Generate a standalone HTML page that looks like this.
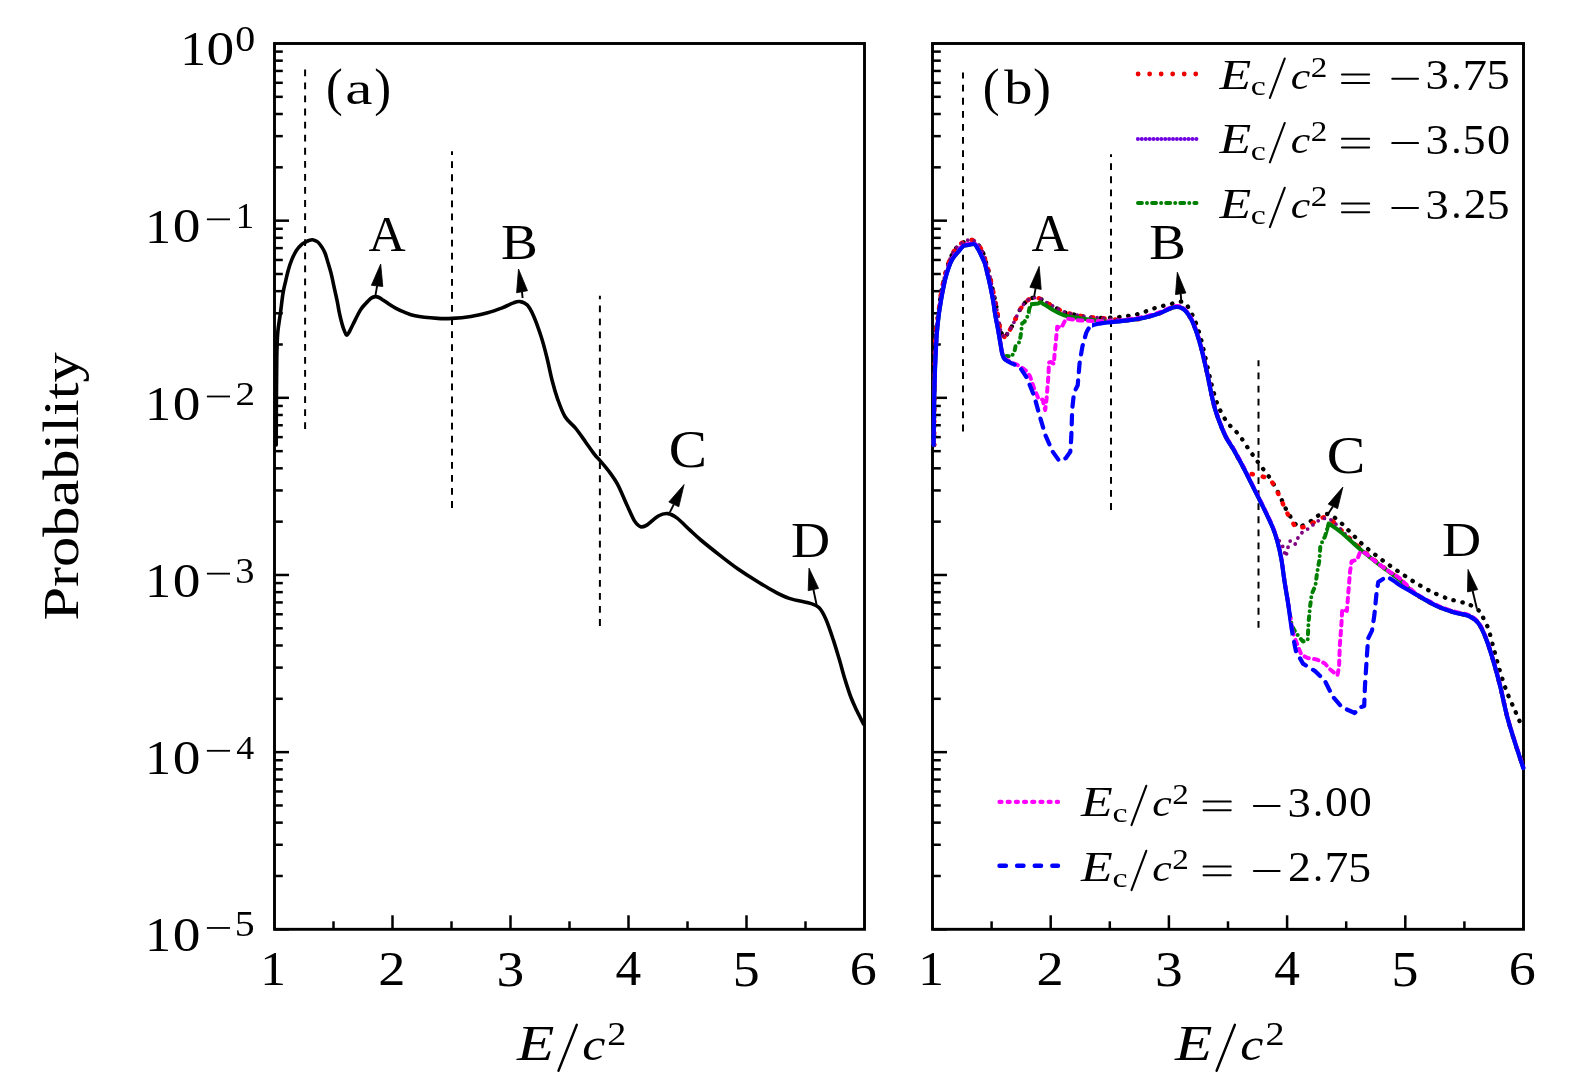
<!DOCTYPE html><html><head><meta charset="utf-8"><style>html,body{margin:0;padding:0;background:#fff;}svg{display:block;}svg{will-change:transform;}</style></head><body>
<svg width="1575" height="1083" viewBox="0 0 1575 1083">
<rect width="1575" height="1083" fill="#fff"/>
<rect x="274.5" y="43.5" width="590.0" height="885.8" fill="none" stroke="#000" stroke-width="2.9"/>
<line x1="274.5" y1="220.66" x2="289.0" y2="220.66" stroke="#000" stroke-width="2.5"/>
<line x1="274.5" y1="167.33" x2="282.8" y2="167.33" stroke="#000" stroke-width="2.5"/>
<line x1="274.5" y1="136.13" x2="282.8" y2="136.13" stroke="#000" stroke-width="2.5"/>
<line x1="274.5" y1="114.00" x2="282.8" y2="114.00" stroke="#000" stroke-width="2.5"/>
<line x1="274.5" y1="96.83" x2="282.8" y2="96.83" stroke="#000" stroke-width="2.5"/>
<line x1="274.5" y1="82.80" x2="282.8" y2="82.80" stroke="#000" stroke-width="2.5"/>
<line x1="274.5" y1="70.94" x2="282.8" y2="70.94" stroke="#000" stroke-width="2.5"/>
<line x1="274.5" y1="60.67" x2="282.8" y2="60.67" stroke="#000" stroke-width="2.5"/>
<line x1="274.5" y1="51.61" x2="282.8" y2="51.61" stroke="#000" stroke-width="2.5"/>
<line x1="274.5" y1="397.82" x2="289.0" y2="397.82" stroke="#000" stroke-width="2.5"/>
<line x1="274.5" y1="344.49" x2="282.8" y2="344.49" stroke="#000" stroke-width="2.5"/>
<line x1="274.5" y1="313.29" x2="282.8" y2="313.29" stroke="#000" stroke-width="2.5"/>
<line x1="274.5" y1="291.16" x2="282.8" y2="291.16" stroke="#000" stroke-width="2.5"/>
<line x1="274.5" y1="273.99" x2="282.8" y2="273.99" stroke="#000" stroke-width="2.5"/>
<line x1="274.5" y1="259.96" x2="282.8" y2="259.96" stroke="#000" stroke-width="2.5"/>
<line x1="274.5" y1="248.10" x2="282.8" y2="248.10" stroke="#000" stroke-width="2.5"/>
<line x1="274.5" y1="237.83" x2="282.8" y2="237.83" stroke="#000" stroke-width="2.5"/>
<line x1="274.5" y1="228.77" x2="282.8" y2="228.77" stroke="#000" stroke-width="2.5"/>
<line x1="274.5" y1="574.98" x2="289.0" y2="574.98" stroke="#000" stroke-width="2.5"/>
<line x1="274.5" y1="521.65" x2="282.8" y2="521.65" stroke="#000" stroke-width="2.5"/>
<line x1="274.5" y1="490.45" x2="282.8" y2="490.45" stroke="#000" stroke-width="2.5"/>
<line x1="274.5" y1="468.32" x2="282.8" y2="468.32" stroke="#000" stroke-width="2.5"/>
<line x1="274.5" y1="451.15" x2="282.8" y2="451.15" stroke="#000" stroke-width="2.5"/>
<line x1="274.5" y1="437.12" x2="282.8" y2="437.12" stroke="#000" stroke-width="2.5"/>
<line x1="274.5" y1="425.26" x2="282.8" y2="425.26" stroke="#000" stroke-width="2.5"/>
<line x1="274.5" y1="414.99" x2="282.8" y2="414.99" stroke="#000" stroke-width="2.5"/>
<line x1="274.5" y1="405.93" x2="282.8" y2="405.93" stroke="#000" stroke-width="2.5"/>
<line x1="274.5" y1="752.14" x2="289.0" y2="752.14" stroke="#000" stroke-width="2.5"/>
<line x1="274.5" y1="698.81" x2="282.8" y2="698.81" stroke="#000" stroke-width="2.5"/>
<line x1="274.5" y1="667.61" x2="282.8" y2="667.61" stroke="#000" stroke-width="2.5"/>
<line x1="274.5" y1="645.48" x2="282.8" y2="645.48" stroke="#000" stroke-width="2.5"/>
<line x1="274.5" y1="628.31" x2="282.8" y2="628.31" stroke="#000" stroke-width="2.5"/>
<line x1="274.5" y1="614.28" x2="282.8" y2="614.28" stroke="#000" stroke-width="2.5"/>
<line x1="274.5" y1="602.42" x2="282.8" y2="602.42" stroke="#000" stroke-width="2.5"/>
<line x1="274.5" y1="592.15" x2="282.8" y2="592.15" stroke="#000" stroke-width="2.5"/>
<line x1="274.5" y1="583.09" x2="282.8" y2="583.09" stroke="#000" stroke-width="2.5"/>
<line x1="274.5" y1="929.30" x2="289.0" y2="929.30" stroke="#000" stroke-width="2.5"/>
<line x1="274.5" y1="875.97" x2="282.8" y2="875.97" stroke="#000" stroke-width="2.5"/>
<line x1="274.5" y1="844.77" x2="282.8" y2="844.77" stroke="#000" stroke-width="2.5"/>
<line x1="274.5" y1="822.64" x2="282.8" y2="822.64" stroke="#000" stroke-width="2.5"/>
<line x1="274.5" y1="805.47" x2="282.8" y2="805.47" stroke="#000" stroke-width="2.5"/>
<line x1="274.5" y1="791.44" x2="282.8" y2="791.44" stroke="#000" stroke-width="2.5"/>
<line x1="274.5" y1="779.58" x2="282.8" y2="779.58" stroke="#000" stroke-width="2.5"/>
<line x1="274.5" y1="769.31" x2="282.8" y2="769.31" stroke="#000" stroke-width="2.5"/>
<line x1="274.5" y1="760.25" x2="282.8" y2="760.25" stroke="#000" stroke-width="2.5"/>
<line x1="333.50" y1="929.3" x2="333.50" y2="921.3" stroke="#000" stroke-width="2.5"/>
<line x1="392.50" y1="929.3" x2="392.50" y2="915.3" stroke="#000" stroke-width="2.5"/>
<line x1="451.50" y1="929.3" x2="451.50" y2="921.3" stroke="#000" stroke-width="2.5"/>
<line x1="510.50" y1="929.3" x2="510.50" y2="915.3" stroke="#000" stroke-width="2.5"/>
<line x1="569.50" y1="929.3" x2="569.50" y2="921.3" stroke="#000" stroke-width="2.5"/>
<line x1="628.50" y1="929.3" x2="628.50" y2="915.3" stroke="#000" stroke-width="2.5"/>
<line x1="687.50" y1="929.3" x2="687.50" y2="921.3" stroke="#000" stroke-width="2.5"/>
<line x1="746.50" y1="929.3" x2="746.50" y2="915.3" stroke="#000" stroke-width="2.5"/>
<line x1="805.50" y1="929.3" x2="805.50" y2="921.3" stroke="#000" stroke-width="2.5"/>
<text transform="translate(260.28,985.10) scale(1.0673,1)" font-family="Liberation Serif" font-size="48.17">1</text>
<text transform="translate(378.31,984.80) scale(1.1182,1)" font-family="Liberation Serif" font-size="48.63">2</text>
<text transform="translate(496.55,985.61) scale(1.1118,1)" font-family="Liberation Serif" font-size="49.86">3</text>
<text transform="translate(615.60,984.80) scale(1.0349,1)" font-family="Liberation Serif" font-size="49.68">4</text>
<text transform="translate(732.67,985.61) scale(1.0686,1)" font-family="Liberation Serif" font-size="50.41">5</text>
<text transform="translate(849.68,985.32) scale(1.1075,1)" font-family="Liberation Serif" font-size="48.82">6</text>
<text transform="translate(180.16,65.30) scale(1.0533,1)" font-family="Liberation Serif" font-size="49.08">1</text>
<text transform="translate(206.59,65.33) scale(1.1513,1)" font-family="Liberation Serif" font-size="48.16">0</text>
<text transform="translate(235.18,51.26) scale(1.1402,1)" font-family="Liberation Serif" font-size="34.97">0</text>
<text transform="translate(145.01,242.50) scale(1.0616,1)" font-family="Liberation Serif" font-size="49.23">1</text>
<text transform="translate(172.79,242.43) scale(1.1477,1)" font-family="Liberation Serif" font-size="48.31">0</text>
<rect x="206.9" y="218.43" width="23.1" height="1.8" fill="#000"/>
<text transform="translate(235.68,228.20) scale(1.0472,1)" font-family="Liberation Serif" font-size="34.99">1</text>
<text transform="translate(145.01,419.66) scale(1.0616,1)" font-family="Liberation Serif" font-size="49.23">1</text>
<text transform="translate(172.79,419.59) scale(1.1477,1)" font-family="Liberation Serif" font-size="48.31">0</text>
<rect x="206.9" y="395.59" width="23.1" height="1.8" fill="#000"/>
<text transform="translate(235.48,404.86) scale(1.1423,1)" font-family="Liberation Serif" font-size="34.28">2</text>
<text transform="translate(145.01,596.82) scale(1.0616,1)" font-family="Liberation Serif" font-size="49.23">1</text>
<text transform="translate(172.79,596.75) scale(1.1477,1)" font-family="Liberation Serif" font-size="48.31">0</text>
<rect x="206.9" y="572.75" width="23.1" height="1.8" fill="#000"/>
<text transform="translate(235.36,582.57) scale(1.0866,1)" font-family="Liberation Serif" font-size="35.42">3</text>
<text transform="translate(145.01,773.98) scale(1.0616,1)" font-family="Liberation Serif" font-size="49.23">1</text>
<text transform="translate(172.79,773.91) scale(1.1477,1)" font-family="Liberation Serif" font-size="48.31">0</text>
<rect x="206.9" y="749.90" width="23.1" height="1.8" fill="#000"/>
<text transform="translate(236.20,758.88) scale(1.0371,1)" font-family="Liberation Serif" font-size="34.64">4</text>
<text transform="translate(145.01,951.14) scale(1.0616,1)" font-family="Liberation Serif" font-size="49.23">1</text>
<text transform="translate(172.79,951.07) scale(1.1477,1)" font-family="Liberation Serif" font-size="48.31">0</text>
<rect x="206.9" y="927.07" width="23.1" height="1.8" fill="#000"/>
<text transform="translate(234.79,936.49) scale(1.1184,1)" font-family="Liberation Serif" font-size="35.51">5</text>
<line x1="305.1" y1="429.1" x2="305.1" y2="69.4" stroke="#000" stroke-width="2" stroke-dasharray="6.8 6.27"/>
<line x1="452.0" y1="507.9" x2="452.0" y2="151.3" stroke="#000" stroke-width="2" stroke-dasharray="6.8 6.27"/>
<line x1="599.9" y1="625.9" x2="599.9" y2="295.7" stroke="#000" stroke-width="2" stroke-dasharray="6.8 6.27"/>
<path d="M276.2,445.0 C276.2,437.5 276.3,411.3 276.4,400.0 C276.5,388.7 276.5,385.0 276.6,377.0 C276.7,369.0 276.7,359.5 276.9,352.0 C277.1,344.5 277.2,338.4 277.8,332.0 C278.4,325.6 279.5,319.9 280.4,313.3 C281.3,306.7 282.2,298.0 283.1,292.6 C284.0,287.2 284.9,284.5 285.7,280.8 C286.5,277.1 287.2,274.1 288.2,270.5 C289.2,266.9 290.5,262.7 291.9,259.4 C293.3,256.1 294.8,253.0 296.4,250.5 C298.0,248.0 300.0,245.9 301.5,244.6 C303.0,243.2 304.0,243.1 305.2,242.4 C306.4,241.7 307.5,240.8 308.9,240.4 C310.3,240.0 311.9,239.6 313.4,239.9 C314.9,240.2 316.3,240.7 317.8,242.0 C319.3,243.3 321.0,245.7 322.2,247.6 C323.4,249.5 324.2,250.9 325.2,253.5 C326.2,256.1 327.1,259.8 328.1,263.1 C329.1,266.4 330.1,269.5 331.1,273.4 C332.1,277.3 333.0,282.0 334.0,286.7 C335.0,291.4 336.4,297.3 337.3,301.6 C338.2,305.9 338.5,309.0 339.3,312.7 C340.1,316.4 341.2,320.9 342.0,323.8 C342.8,326.8 343.4,328.5 344.2,330.4 C345.0,332.3 345.7,334.9 346.6,335.1 C347.5,335.3 348.4,333.4 349.5,331.5 C350.6,329.6 351.5,327.4 353.3,323.8 C355.1,320.2 358.4,313.3 360.5,309.9 C362.6,306.5 364.2,305.2 366.0,303.3 C367.8,301.4 369.4,299.4 371.0,298.3 C372.6,297.2 374.1,296.7 375.4,296.6 C376.7,296.5 377.9,297.0 379.0,297.5 C380.1,298.0 380.2,298.1 382.1,299.4 C384.0,300.6 388.1,303.5 390.4,305.0 C392.7,306.5 393.7,307.1 396.0,308.3 C398.3,309.5 401.1,310.9 404.3,312.1 C407.5,313.3 409.4,314.6 415.0,315.7 C420.6,316.8 431.5,317.9 437.7,318.4 C443.9,318.8 446.6,318.7 452.1,318.4 C457.6,318.1 465.0,317.4 470.9,316.5 C476.8,315.6 482.4,314.2 487.6,312.8 C492.8,311.4 498.0,309.5 502.3,307.9 C506.6,306.2 510.5,303.9 513.4,302.9 C516.3,301.8 517.4,301.2 519.7,301.6 C522.0,302.0 525.0,302.7 527.3,305.1 C529.6,307.5 531.4,311.0 533.7,316.2 C536.0,321.4 538.9,329.7 541.1,336.5 C543.3,343.3 544.9,349.4 546.7,356.8 C548.6,364.2 550.4,373.7 552.2,380.8 C554.0,387.9 555.6,393.3 557.7,399.3 C559.9,405.3 562.2,412.0 565.1,416.8 C568.0,421.6 571.9,423.8 575.3,427.9 C578.7,432.0 582.2,437.2 585.4,441.7 C588.6,446.2 592.4,451.7 594.7,454.7 C597.0,457.7 596.9,457.0 599.2,459.7 C601.5,462.4 605.4,466.6 608.5,470.8 C611.6,475.0 614.6,478.9 617.7,484.6 C620.8,490.3 624.1,498.9 626.9,504.9 C629.7,510.9 632.0,517.0 634.3,520.6 C636.6,524.2 638.6,526.0 640.8,526.7 C642.9,527.4 644.3,526.7 647.2,524.9 C650.1,523.1 654.9,517.9 658.3,516.0 C661.7,514.1 664.7,513.3 667.8,513.6 C670.9,513.9 673.1,515.2 676.8,517.9 C680.4,520.6 685.7,526.2 689.7,529.9 C693.7,533.6 695.9,535.9 700.8,540.0 C705.7,544.1 713.1,550.0 719.3,554.8 C725.4,559.6 731.6,564.4 737.7,568.7 C743.9,573.0 750.0,576.9 756.2,580.7 C762.4,584.5 769.1,588.7 774.7,591.7 C780.3,594.7 784.0,596.7 790.0,598.6 C796.0,600.5 805.6,601.9 810.4,603.4 C815.2,604.9 816.3,605.0 818.9,607.6 C821.5,610.2 823.5,613.8 825.9,619.2 C828.3,624.6 831.1,633.2 833.3,639.9 C835.5,646.5 837.2,652.5 839.2,659.1 C841.2,665.8 843.1,673.4 845.1,679.8 C847.1,686.2 849.0,692.3 851.0,697.5 C853.0,702.7 854.8,706.3 856.9,710.8 C859.0,715.2 862.5,722.0 863.6,724.2" fill="none" stroke="#000" stroke-width="3.6" stroke-linejoin="round" stroke-linecap="round"/>
<line x1="375.5" y1="295.2" x2="377.1" y2="285.9" stroke="#000" stroke-width="1.9"/>
<polygon points="380.7,264.0 371.4,285.3 382.8,286.5" fill="#000" stroke="#000" stroke-width="0.8" stroke-linejoin="round"/>
<line x1="522.6" y1="298.0" x2="522.0" y2="291.8" stroke="#000" stroke-width="1.9"/>
<polygon points="518.5,269.0 516.6,292.8 527.5,290.7" fill="#000" stroke="#000" stroke-width="0.8" stroke-linejoin="round"/>
<line x1="669.8" y1="512.4" x2="673.8" y2="504.4" stroke="#000" stroke-width="1.9"/>
<polygon points="684.1,484.5 668.8,502.0 678.8,506.8" fill="#000" stroke="#000" stroke-width="0.8" stroke-linejoin="round"/>
<line x1="816.6" y1="604.7" x2="813.4" y2="589.5" stroke="#000" stroke-width="1.9"/>
<polygon points="809.0,568.1 808.2,590.7 818.6,588.4" fill="#000" stroke="#000" stroke-width="0.8" stroke-linejoin="round"/>
<text transform="translate(368.40,250.70) scale(1.0055,1)" font-family="Liberation Serif" font-size="51.20">A</text>
<text transform="translate(501.11,258.65) scale(1.1092,1)" font-family="Liberation Serif" font-size="49.72">B</text>
<text transform="translate(668.75,467.29) scale(1.1060,1)" font-family="Liberation Serif" font-size="51.80">C</text>
<text transform="translate(790.94,556.70) scale(1.0882,1)" font-family="Liberation Serif" font-size="49.79">D</text>
<text transform="translate(325.89,104.61) scale(0.9468,1)" font-family="Liberation Serif" font-size="53.05">(</text>
<text transform="translate(345.35,104.15) scale(1.3159,1)" font-family="Liberation Serif" font-size="46.55">a</text>
<text transform="translate(374.27,104.61) scale(0.9542,1)" font-family="Liberation Serif" font-size="53.05">)</text>
<rect x="932.5" y="43.5" width="591.0" height="885.8" fill="none" stroke="#000" stroke-width="2.9"/>
<line x1="932.5" y1="220.66" x2="947.0" y2="220.66" stroke="#000" stroke-width="2.5"/>
<line x1="932.5" y1="167.33" x2="940.8" y2="167.33" stroke="#000" stroke-width="2.5"/>
<line x1="932.5" y1="136.13" x2="940.8" y2="136.13" stroke="#000" stroke-width="2.5"/>
<line x1="932.5" y1="114.00" x2="940.8" y2="114.00" stroke="#000" stroke-width="2.5"/>
<line x1="932.5" y1="96.83" x2="940.8" y2="96.83" stroke="#000" stroke-width="2.5"/>
<line x1="932.5" y1="82.80" x2="940.8" y2="82.80" stroke="#000" stroke-width="2.5"/>
<line x1="932.5" y1="70.94" x2="940.8" y2="70.94" stroke="#000" stroke-width="2.5"/>
<line x1="932.5" y1="60.67" x2="940.8" y2="60.67" stroke="#000" stroke-width="2.5"/>
<line x1="932.5" y1="51.61" x2="940.8" y2="51.61" stroke="#000" stroke-width="2.5"/>
<line x1="932.5" y1="397.82" x2="947.0" y2="397.82" stroke="#000" stroke-width="2.5"/>
<line x1="932.5" y1="344.49" x2="940.8" y2="344.49" stroke="#000" stroke-width="2.5"/>
<line x1="932.5" y1="313.29" x2="940.8" y2="313.29" stroke="#000" stroke-width="2.5"/>
<line x1="932.5" y1="291.16" x2="940.8" y2="291.16" stroke="#000" stroke-width="2.5"/>
<line x1="932.5" y1="273.99" x2="940.8" y2="273.99" stroke="#000" stroke-width="2.5"/>
<line x1="932.5" y1="259.96" x2="940.8" y2="259.96" stroke="#000" stroke-width="2.5"/>
<line x1="932.5" y1="248.10" x2="940.8" y2="248.10" stroke="#000" stroke-width="2.5"/>
<line x1="932.5" y1="237.83" x2="940.8" y2="237.83" stroke="#000" stroke-width="2.5"/>
<line x1="932.5" y1="228.77" x2="940.8" y2="228.77" stroke="#000" stroke-width="2.5"/>
<line x1="932.5" y1="574.98" x2="947.0" y2="574.98" stroke="#000" stroke-width="2.5"/>
<line x1="932.5" y1="521.65" x2="940.8" y2="521.65" stroke="#000" stroke-width="2.5"/>
<line x1="932.5" y1="490.45" x2="940.8" y2="490.45" stroke="#000" stroke-width="2.5"/>
<line x1="932.5" y1="468.32" x2="940.8" y2="468.32" stroke="#000" stroke-width="2.5"/>
<line x1="932.5" y1="451.15" x2="940.8" y2="451.15" stroke="#000" stroke-width="2.5"/>
<line x1="932.5" y1="437.12" x2="940.8" y2="437.12" stroke="#000" stroke-width="2.5"/>
<line x1="932.5" y1="425.26" x2="940.8" y2="425.26" stroke="#000" stroke-width="2.5"/>
<line x1="932.5" y1="414.99" x2="940.8" y2="414.99" stroke="#000" stroke-width="2.5"/>
<line x1="932.5" y1="405.93" x2="940.8" y2="405.93" stroke="#000" stroke-width="2.5"/>
<line x1="932.5" y1="752.14" x2="947.0" y2="752.14" stroke="#000" stroke-width="2.5"/>
<line x1="932.5" y1="698.81" x2="940.8" y2="698.81" stroke="#000" stroke-width="2.5"/>
<line x1="932.5" y1="667.61" x2="940.8" y2="667.61" stroke="#000" stroke-width="2.5"/>
<line x1="932.5" y1="645.48" x2="940.8" y2="645.48" stroke="#000" stroke-width="2.5"/>
<line x1="932.5" y1="628.31" x2="940.8" y2="628.31" stroke="#000" stroke-width="2.5"/>
<line x1="932.5" y1="614.28" x2="940.8" y2="614.28" stroke="#000" stroke-width="2.5"/>
<line x1="932.5" y1="602.42" x2="940.8" y2="602.42" stroke="#000" stroke-width="2.5"/>
<line x1="932.5" y1="592.15" x2="940.8" y2="592.15" stroke="#000" stroke-width="2.5"/>
<line x1="932.5" y1="583.09" x2="940.8" y2="583.09" stroke="#000" stroke-width="2.5"/>
<line x1="932.5" y1="929.30" x2="947.0" y2="929.30" stroke="#000" stroke-width="2.5"/>
<line x1="932.5" y1="875.97" x2="940.8" y2="875.97" stroke="#000" stroke-width="2.5"/>
<line x1="932.5" y1="844.77" x2="940.8" y2="844.77" stroke="#000" stroke-width="2.5"/>
<line x1="932.5" y1="822.64" x2="940.8" y2="822.64" stroke="#000" stroke-width="2.5"/>
<line x1="932.5" y1="805.47" x2="940.8" y2="805.47" stroke="#000" stroke-width="2.5"/>
<line x1="932.5" y1="791.44" x2="940.8" y2="791.44" stroke="#000" stroke-width="2.5"/>
<line x1="932.5" y1="779.58" x2="940.8" y2="779.58" stroke="#000" stroke-width="2.5"/>
<line x1="932.5" y1="769.31" x2="940.8" y2="769.31" stroke="#000" stroke-width="2.5"/>
<line x1="932.5" y1="760.25" x2="940.8" y2="760.25" stroke="#000" stroke-width="2.5"/>
<line x1="991.60" y1="929.3" x2="991.60" y2="921.3" stroke="#000" stroke-width="2.5"/>
<line x1="1050.70" y1="929.3" x2="1050.70" y2="915.3" stroke="#000" stroke-width="2.5"/>
<line x1="1109.80" y1="929.3" x2="1109.80" y2="921.3" stroke="#000" stroke-width="2.5"/>
<line x1="1168.90" y1="929.3" x2="1168.90" y2="915.3" stroke="#000" stroke-width="2.5"/>
<line x1="1228.00" y1="929.3" x2="1228.00" y2="921.3" stroke="#000" stroke-width="2.5"/>
<line x1="1287.10" y1="929.3" x2="1287.10" y2="915.3" stroke="#000" stroke-width="2.5"/>
<line x1="1346.20" y1="929.3" x2="1346.20" y2="921.3" stroke="#000" stroke-width="2.5"/>
<line x1="1405.30" y1="929.3" x2="1405.30" y2="915.3" stroke="#000" stroke-width="2.5"/>
<line x1="1464.40" y1="929.3" x2="1464.40" y2="921.3" stroke="#000" stroke-width="2.5"/>
<text transform="translate(918.28,985.10) scale(1.0673,1)" font-family="Liberation Serif" font-size="48.17">1</text>
<text transform="translate(1036.51,984.80) scale(1.1182,1)" font-family="Liberation Serif" font-size="48.63">2</text>
<text transform="translate(1154.95,985.61) scale(1.1118,1)" font-family="Liberation Serif" font-size="49.86">3</text>
<text transform="translate(1274.20,984.80) scale(1.0349,1)" font-family="Liberation Serif" font-size="49.68">4</text>
<text transform="translate(1391.47,985.61) scale(1.0686,1)" font-family="Liberation Serif" font-size="50.41">5</text>
<text transform="translate(1508.68,985.32) scale(1.1075,1)" font-family="Liberation Serif" font-size="48.82">6</text>
<line x1="963.0" y1="431.4" x2="963.0" y2="72.5" stroke="#000" stroke-width="2" stroke-dasharray="6.8 6.27"/>
<line x1="1111.0" y1="509.9" x2="1111.0" y2="154.2" stroke="#000" stroke-width="2" stroke-dasharray="6.8 6.27"/>
<line x1="1258.5" y1="627.7" x2="1258.5" y2="360.3" stroke="#000" stroke-width="2" stroke-dasharray="6.8 6.27"/>
<defs>
<clipPath id="bl_d">
<rect x="1012.0" y="0" width="80.0" height="1083"/>
<rect x="1291.0" y="0" width="102.0" height="1083"/>
</clipPath>
<clipPath id="bl_s">
<rect x="900.0" y="0" width="112.0" height="1083"/>
<rect x="1092.0" y="0" width="199.0" height="1083"/>
<rect x="1393.0" y="0" width="167.0" height="1083"/>
</clipPath>
<clipPath id="gr_d">
<rect x="1005.0" y="0" width="25.0" height="1083"/>
<rect x="1291.0" y="0" width="35.0" height="1083"/>
</clipPath>
<clipPath id="gr_s">
<rect x="900.0" y="0" width="105.0" height="1083"/>
<rect x="1030.0" y="0" width="261.0" height="1083"/>
<rect x="1326.0" y="0" width="234.0" height="1083"/>
</clipPath>
</defs>
<path d="M934.2,445.0 C934.2,437.5 934.3,411.3 934.4,400.0 C934.5,388.7 934.5,385.0 934.6,377.0 C934.7,369.0 934.7,359.5 934.9,352.0 C935.1,344.5 935.2,338.4 935.8,332.0 C936.4,325.6 937.5,319.9 938.4,313.3 C939.3,306.7 940.2,298.0 941.1,292.6 C942.0,287.2 942.9,284.5 943.7,280.8 C944.6,277.1 945.2,274.1 946.2,270.5 C947.3,266.9 948.6,262.7 949.9,259.4 C951.3,256.1 952.8,253.0 954.4,250.5 C956.0,248.0 958.1,245.9 959.5,244.6 C961.0,243.2 962.0,243.1 963.3,242.4 C964.5,241.7 965.6,240.8 967.0,240.4 C968.3,240.0 970.0,239.6 971.5,239.9 C973.0,240.2 974.4,240.7 975.9,242.0 C977.3,243.3 979.0,245.7 980.3,247.6 C981.5,249.5 982.3,250.9 983.3,253.5 C984.3,256.1 985.2,259.8 986.2,263.1 C987.2,266.4 988.2,269.5 989.2,273.4 C990.2,277.3 991.1,282.0 992.1,286.7 C993.1,291.4 994.5,297.3 995.4,301.6 C996.3,305.9 996.5,307.8 997.4,312.7 C998.3,317.6 999.5,326.7 1000.7,330.8 C1001.9,334.9 1003.7,336.7 1004.8,337.2 C1005.9,337.7 1006.3,335.3 1007.4,333.7 C1008.5,332.1 1009.9,330.0 1011.1,327.8 C1012.3,325.6 1013.6,323.1 1014.8,320.5 C1016.0,317.9 1017.3,314.7 1018.5,312.3 C1019.7,309.9 1021.1,308.0 1022.2,306.4 C1023.3,304.8 1023.6,304.0 1025.1,302.7 C1026.6,301.4 1028.7,299.0 1031.0,298.3 C1033.3,297.6 1036.3,297.4 1039.1,298.3 C1041.9,299.2 1045.2,301.9 1048.0,303.5 C1050.8,305.1 1053.5,306.5 1056.1,307.9 C1058.7,309.3 1060.5,310.9 1063.5,312.0 C1066.5,313.1 1070.2,313.7 1073.9,314.5 C1077.7,315.3 1081.7,316.2 1086.0,316.8 C1090.3,317.4 1094.6,317.9 1100.0,318.0 C1105.4,318.1 1112.3,317.7 1118.5,317.1 C1124.7,316.5 1130.8,315.8 1137.0,314.3 C1143.2,312.8 1149.9,309.6 1155.4,307.9 C1160.9,306.2 1166.0,305.2 1170.2,304.2 C1174.4,303.1 1177.6,301.5 1180.4,301.6 C1183.2,301.8 1184.5,302.2 1186.8,305.1 C1189.1,308.0 1192.0,314.1 1194.2,319.0 C1196.4,323.9 1198.1,329.0 1199.8,334.7 C1201.5,340.4 1202.9,346.6 1204.4,353.1 C1205.9,359.6 1207.7,367.7 1209.0,373.5 C1210.3,379.3 1211.0,382.4 1212.5,387.8 C1214.0,393.2 1215.6,400.1 1218.1,405.8 C1220.5,411.6 1223.8,417.5 1227.2,422.3 C1230.7,427.1 1235.1,430.1 1238.8,434.7 C1242.5,439.3 1245.8,445.1 1249.3,450.0 C1252.8,454.9 1256.0,459.4 1259.5,464.2 C1263.0,469.0 1267.2,473.9 1270.5,479.0 C1273.8,484.1 1276.5,489.3 1279.2,494.5 C1281.9,499.7 1283.8,505.3 1286.6,510.3 C1289.4,515.3 1293.8,522.0 1296.0,524.7 C1298.2,527.4 1297.7,527.2 1300.1,526.6 C1302.5,526.0 1307.5,523.2 1310.4,521.4 C1313.4,519.6 1315.0,517.0 1317.8,515.8 C1320.6,514.6 1324.8,513.8 1327.4,514.0 C1330.1,514.2 1331.4,515.5 1333.7,517.0 C1336.0,518.5 1338.7,520.9 1341.1,523.0 C1343.5,525.1 1345.8,527.7 1348.0,529.9 C1350.2,532.1 1352.3,534.2 1354.5,536.4 C1356.7,538.6 1358.6,540.8 1360.9,542.9 C1363.2,545.0 1366.0,547.4 1368.3,549.3 C1370.6,551.2 1372.4,552.5 1374.8,554.4 C1377.2,556.2 1380.2,558.6 1382.6,560.4 C1385.0,562.2 1386.7,563.3 1389.1,565.0 C1391.5,566.7 1394.4,568.9 1396.9,570.6 C1399.4,572.3 1401.4,573.5 1404.0,575.2 C1406.6,576.9 1409.8,579.2 1412.3,580.8 C1414.8,582.4 1416.4,583.3 1419.1,584.9 C1421.8,586.5 1425.8,588.8 1428.4,590.2 C1431.0,591.6 1431.7,591.9 1434.6,593.2 C1437.5,594.5 1442.9,596.8 1445.7,597.9 C1448.5,599.0 1448.2,598.8 1451.2,599.6 C1454.2,600.4 1460.6,601.9 1463.4,602.6 C1466.2,603.4 1466.0,603.1 1468.2,604.1 C1470.4,605.1 1474.5,606.9 1476.6,608.5 C1478.7,610.1 1479.1,610.8 1481.0,614.0 C1482.9,617.2 1485.8,622.1 1488.0,628.0 C1490.2,633.9 1492.0,642.4 1494.0,649.6 C1496.0,656.8 1497.8,664.0 1500.0,671.2 C1502.2,678.4 1504.6,686.0 1507.2,692.8 C1509.8,699.6 1513.0,706.0 1515.6,712.0 C1518.2,718.0 1521.8,726.2 1523.0,729.0" fill="none" stroke-linecap="round" stroke-linejoin="round" stroke="#000" stroke-width="4.3" stroke-dasharray="0.4 8.7"/>
<path d="M934.2,445.0 C934.2,437.5 934.3,411.3 934.4,400.0 C934.5,388.7 934.5,385.0 934.6,377.0 C934.7,369.0 934.7,359.5 934.9,352.0 C935.1,344.5 935.2,338.4 935.8,332.0 C936.4,325.6 937.5,319.9 938.4,313.3 C939.3,306.7 940.2,298.0 941.1,292.6 C942.0,287.2 942.9,284.5 943.7,280.8 C944.6,277.1 945.2,274.1 946.2,270.5 C947.3,266.9 948.6,262.7 949.9,259.4 C951.3,256.1 952.8,253.0 954.4,250.5 C956.0,248.0 958.1,245.9 959.5,244.6 C961.0,243.2 962.0,243.1 963.3,242.4 C964.5,241.7 965.6,240.8 967.0,240.4 C968.3,240.0 970.0,239.6 971.5,239.9 C973.0,240.2 974.4,240.7 975.9,242.0 C977.3,243.3 979.0,245.7 980.3,247.6 C981.5,249.5 982.3,250.9 983.3,253.5 C984.3,256.1 985.2,259.8 986.2,263.1 C987.2,266.4 988.2,269.5 989.2,273.4 C990.2,277.3 991.1,282.0 992.1,286.7 C993.1,291.4 994.5,297.3 995.4,301.6 C996.3,305.9 996.5,307.8 997.4,312.7 C998.3,317.6 999.5,326.7 1000.7,330.8 C1001.9,334.9 1003.7,336.7 1004.8,337.2 C1005.9,337.7 1006.3,335.3 1007.4,333.7 C1008.5,332.1 1009.9,330.0 1011.1,327.8 C1012.3,325.6 1013.6,323.1 1014.8,320.5 C1016.0,317.9 1017.3,314.7 1018.5,312.3 C1019.7,309.9 1021.1,308.0 1022.2,306.4 C1023.3,304.8 1023.6,304.0 1025.1,302.7 C1026.6,301.4 1028.7,299.0 1031.0,298.3 C1033.3,297.6 1036.3,297.4 1039.1,298.3 C1041.9,299.2 1045.2,301.9 1048.0,303.5 C1050.8,305.1 1053.5,306.5 1056.1,307.9 C1058.7,309.3 1060.5,310.9 1063.5,312.0 C1066.5,313.1 1070.2,313.7 1073.9,314.5 C1077.7,315.3 1081.7,316.2 1086.0,316.8 C1090.3,317.4 1093.0,317.4 1100.0,318.0 C1107.0,318.6 1120.3,320.4 1127.7,320.3 C1135.1,320.2 1139.1,318.9 1144.3,317.7 C1149.5,316.5 1154.2,315.1 1159.1,313.4 C1164.0,311.7 1169.9,308.1 1173.9,307.3 C1177.9,306.5 1180.3,307.0 1183.1,308.8 C1185.9,310.6 1188.3,314.3 1190.5,318.0 C1192.7,321.7 1194.2,325.8 1196.1,331.0 C1197.9,336.2 1199.8,342.3 1201.6,349.4 C1203.4,356.5 1205.4,365.4 1207.2,373.5 C1209.0,381.6 1210.6,390.9 1212.2,397.7 C1213.8,404.4 1214.4,407.6 1216.6,414.0 C1218.8,420.4 1222.5,430.1 1225.5,436.2 C1228.5,442.3 1231.3,445.7 1234.3,450.9 C1237.2,456.1 1240.7,463.5 1243.2,467.2 C1245.7,470.9 1246.6,471.8 1249.1,473.1 C1251.6,474.5 1254.4,474.1 1258.0,475.3 C1261.6,476.5 1266.9,477.1 1270.5,480.5 C1274.1,483.9 1276.7,490.7 1279.4,496.0 C1282.1,501.3 1284.0,507.0 1286.8,512.3 C1289.6,517.6 1296.0,528.0 1296.0,528.0 C1296.0,528.0 1305.6,527.1 1308.6,526.2 C1311.5,525.3 1310.6,524.0 1313.7,522.5 C1316.8,521.0 1322.3,516.0 1327.0,517.3 C1331.7,518.6 1336.1,525.4 1341.6,530.5 C1347.1,535.6 1353.9,542.5 1360.1,548.0 C1366.3,553.5 1371.9,558.2 1378.6,563.5 C1385.2,568.8 1393.8,574.6 1400.0,579.8 C1406.2,584.9 1409.7,590.0 1416.0,594.4 C1422.3,598.8 1431.2,603.4 1437.6,606.4 C1444.0,609.4 1449.2,610.8 1454.4,612.4 C1459.6,614.0 1464.8,614.2 1468.8,616.0 C1472.8,617.8 1475.6,619.6 1478.4,623.2 C1481.2,626.8 1483.2,631.6 1485.6,637.6 C1488.0,643.6 1490.4,651.2 1492.8,659.2 C1495.2,667.2 1497.6,676.0 1500.0,685.6 C1502.4,695.2 1504.8,707.6 1507.2,716.8 C1509.6,726.0 1511.7,732.3 1514.4,740.8 C1517.1,749.3 1521.8,763.5 1523.3,768.0" fill="none" stroke-linecap="round" stroke-linejoin="round" stroke="#f00" stroke-width="4.5" stroke-dasharray="1.2 10.3"/>
<path d="M934.2,445.0 C934.2,437.5 934.3,411.3 934.4,400.0 C934.5,388.7 934.5,385.0 934.6,377.0 C934.7,369.0 934.7,359.5 934.9,352.0 C935.1,344.5 935.2,338.4 935.8,332.0 C936.4,325.6 937.5,319.9 938.4,313.3 C939.3,306.7 940.2,298.0 941.1,292.6 C942.0,287.2 942.9,284.5 943.7,280.8 C944.6,277.1 945.2,274.1 946.2,270.5 C947.3,266.9 948.6,262.7 949.9,259.4 C951.3,256.1 952.8,253.0 954.4,250.5 C956.0,248.0 958.1,245.9 959.5,244.6 C961.0,243.2 962.0,243.1 963.3,242.4 C964.5,241.7 965.6,240.8 967.0,240.4 C968.3,240.0 970.0,239.6 971.5,239.9 C973.0,240.2 974.4,240.7 975.9,242.0 C977.3,243.3 979.0,245.7 980.3,247.6 C981.5,249.5 982.3,250.9 983.3,253.5 C984.3,256.1 985.2,259.8 986.2,263.1 C987.2,266.4 988.2,269.5 989.2,273.4 C990.2,277.3 991.1,282.0 992.1,286.7 C993.1,291.4 994.5,297.3 995.4,301.6 C996.3,305.9 996.5,307.8 997.4,312.7 C998.3,317.6 999.5,326.7 1000.7,330.8 C1001.9,334.9 1003.7,336.7 1004.8,337.2 C1005.9,337.7 1006.3,335.3 1007.4,333.7 C1008.5,332.1 1009.9,330.0 1011.1,327.8 C1012.3,325.6 1013.6,323.1 1014.8,320.5 C1016.0,317.9 1017.3,314.7 1018.5,312.3 C1019.7,309.9 1021.1,308.0 1022.2,306.4 C1023.3,304.8 1023.6,304.0 1025.1,302.7 C1026.6,301.4 1028.7,299.0 1031.0,298.3 C1033.3,297.6 1036.3,297.4 1039.1,298.3 C1041.9,299.2 1045.2,301.9 1048.0,303.5 C1050.8,305.1 1053.5,306.5 1056.1,307.9 C1058.7,309.3 1060.5,310.9 1063.5,312.0 C1066.5,313.1 1070.2,313.7 1073.9,314.5 C1077.7,315.3 1081.7,316.2 1086.0,316.8 C1090.3,317.4 1093.0,317.4 1100.0,318.0 C1107.0,318.6 1120.3,320.4 1127.7,320.3 C1135.1,320.2 1139.1,318.9 1144.3,317.7 C1149.5,316.5 1154.2,315.1 1159.1,313.4 C1164.0,311.7 1169.9,308.1 1173.9,307.3 C1177.9,306.5 1180.3,307.0 1183.1,308.8 C1185.9,310.6 1188.3,314.3 1190.5,318.0 C1192.7,321.7 1194.2,325.8 1196.1,331.0 C1197.9,336.2 1199.8,342.3 1201.6,349.4 C1203.4,356.5 1205.4,365.4 1207.2,373.5 C1209.0,381.6 1210.6,390.9 1212.2,397.7 C1213.8,404.4 1214.4,407.6 1216.6,414.0 C1218.8,420.4 1222.5,430.1 1225.5,436.2 C1228.5,442.3 1231.3,445.7 1234.3,450.9 C1237.2,456.1 1239.8,460.5 1243.2,467.2 C1246.7,473.9 1251.5,483.9 1255.0,490.8 C1258.5,497.7 1260.9,502.4 1263.9,508.6 C1266.9,514.8 1270.7,523.1 1272.8,527.8 C1274.9,532.5 1275.0,534.3 1276.5,537.0 C1278.0,539.7 1282.0,543.9 1282.0,543.9 L1283.8,550.6 L1286.0,556.5 L1287.9,547.6 L1290.1,541.0 L1294.9,544.7 L1297.9,538.0 C1297.9,538.0 1299.2,535.2 1300.5,533.9 C1301.8,532.6 1304.2,531.6 1306.0,530.3 C1307.8,529.0 1309.7,527.6 1311.5,526.2 C1313.3,524.8 1314.9,523.0 1316.7,521.8 C1318.5,520.6 1320.6,519.3 1322.6,518.8 C1324.6,518.3 1326.5,518.2 1328.5,518.8 C1330.5,519.4 1332.2,520.5 1334.4,522.5 C1336.6,524.5 1337.3,526.2 1341.6,530.5 C1345.9,534.8 1353.9,543.0 1360.1,548.5 C1366.3,554.0 1371.9,558.5 1378.6,563.8 C1385.2,569.0 1393.8,574.9 1400.0,580.0 C1406.2,585.1 1409.7,590.0 1416.0,594.4 C1422.3,598.8 1431.2,603.4 1437.6,606.4 C1444.0,609.4 1449.2,610.8 1454.4,612.4 C1459.6,614.0 1464.8,614.2 1468.8,616.0 C1472.8,617.8 1475.6,619.6 1478.4,623.2 C1481.2,626.8 1483.2,631.6 1485.6,637.6 C1488.0,643.6 1490.4,651.2 1492.8,659.2 C1495.2,667.2 1497.6,676.0 1500.0,685.6 C1502.4,695.2 1504.8,707.6 1507.2,716.8 C1509.6,726.0 1511.7,732.3 1514.4,740.8 C1517.1,749.3 1521.8,763.5 1523.3,768.0" fill="none" stroke-linecap="round" stroke-linejoin="round" stroke="#800080" stroke-width="3.8" stroke-dasharray="0 6.7"/>
<path d="M933.6,445.0 C933.7,437.5 934.0,412.5 934.2,400.0 C934.4,387.5 934.7,378.7 935.0,370.0 C935.3,361.3 935.7,354.1 936.0,347.7 C936.3,341.3 936.5,337.2 937.0,331.6 C937.5,326.0 938.2,319.3 938.9,314.0 C939.6,308.7 940.4,304.3 941.1,300.0 C941.8,295.7 942.5,292.1 943.3,288.2 C944.1,284.3 945.0,279.7 945.9,276.4 C946.8,273.1 947.5,271.0 948.5,268.2 C949.5,265.4 950.6,262.1 952.2,259.4 C953.8,256.7 956.3,254.2 958.1,252.0 C959.9,249.8 961.5,247.3 963.2,246.1 C964.9,244.9 966.5,245.3 968.4,245.0 C970.2,244.7 972.7,243.5 974.3,244.2 C975.9,244.9 976.8,247.0 978.0,249.0 C979.2,251.0 980.6,254.0 981.7,256.4 C982.8,258.8 983.8,260.5 984.7,263.1 C985.6,265.7 986.2,268.9 986.9,271.9 C987.6,274.8 988.4,277.6 989.1,280.8 C989.8,284.0 990.6,287.4 991.3,291.1 C992.0,294.8 992.9,299.3 993.5,303.0 C994.1,306.7 994.2,308.5 995.0,313.3 C995.8,318.1 997.5,326.4 998.4,331.6 C999.3,336.8 999.9,340.8 1000.6,344.6 C1001.3,348.4 1001.7,352.1 1002.4,354.5 C1003.1,356.9 1004.6,359.2 1004.6,359.2 L1006.6,355.9 L1011.8,356.6 L1014.8,350.0 L1015.5,346.3 L1019.6,341.9 L1020.7,335.2 L1022.2,323.4 L1024.4,321.9 L1028.1,315.3 L1029.5,307.9 L1031.0,304.2 L1038.4,303.5 C1038.4,303.5 1039.5,302.1 1040.5,302.3 C1041.5,302.5 1042.9,303.8 1044.3,304.6 C1045.7,305.4 1047.2,306.3 1048.7,307.2 C1050.2,308.1 1051.5,309.1 1053.2,310.1 C1054.9,311.1 1056.9,312.1 1059.1,313.1 C1061.3,314.1 1063.0,315.1 1066.5,316.0 C1070.0,316.9 1075.6,317.5 1080.0,318.2 C1084.4,318.9 1087.7,319.4 1093.0,320.0 C1098.3,320.6 1106.1,321.8 1111.9,321.8 C1117.7,321.9 1122.3,321.0 1127.7,320.3 C1133.1,319.6 1139.1,318.9 1144.3,317.7 C1149.5,316.5 1154.2,315.1 1159.1,313.4 C1164.0,311.7 1169.9,308.1 1173.9,307.3 C1177.9,306.5 1180.3,307.0 1183.1,308.8 C1185.9,310.6 1188.3,314.3 1190.5,318.0 C1192.7,321.7 1194.2,325.8 1196.1,331.0 C1197.9,336.2 1199.8,342.3 1201.6,349.4 C1203.4,356.5 1205.4,365.4 1207.2,373.5 C1209.0,381.6 1210.6,390.9 1212.2,397.7 C1213.8,404.4 1214.4,407.6 1216.6,414.0 C1218.8,420.4 1222.5,430.1 1225.5,436.2 C1228.5,442.3 1231.3,445.7 1234.3,450.9 C1237.2,456.1 1239.8,460.5 1243.2,467.2 C1246.7,473.9 1251.5,483.9 1255.0,490.8 C1258.5,497.7 1260.9,502.4 1263.9,508.6 C1266.9,514.8 1270.5,522.2 1272.8,527.8 C1275.1,533.4 1276.0,536.6 1277.5,542.0 C1279.0,547.4 1280.4,553.7 1281.5,560.0 C1282.6,566.3 1283.2,572.7 1284.3,580.0 C1285.4,587.3 1287.2,597.7 1288.2,604.0 C1289.2,610.3 1289.9,614.3 1290.5,618.0 C1291.1,621.7 1292.0,626.0 1292.0,626.0 L1296.0,633.0 L1303.0,641.6 L1307.7,640.0 L1308.5,622.8 L1310.0,607.1 L1311.6,594.5 L1315.5,585.1 L1317.1,572.6 L1319.4,560.0 L1320.4,545.6 L1325.0,536.4 L1328.7,523.5 C1328.7,523.5 1336.4,528.4 1341.6,532.7 C1346.8,537.0 1353.9,544.1 1360.1,549.3 C1366.3,554.5 1371.9,559.0 1378.6,564.1 C1385.2,569.2 1393.8,575.2 1400.0,580.2 C1406.2,585.2 1409.7,590.0 1416.0,594.4 C1422.3,598.8 1431.2,603.4 1437.6,606.4 C1444.0,609.4 1449.2,610.8 1454.4,612.4 C1459.6,614.0 1464.8,614.2 1468.8,616.0 C1472.8,617.8 1475.6,619.6 1478.4,623.2 C1481.2,626.8 1483.2,631.6 1485.6,637.6 C1488.0,643.6 1490.4,651.2 1492.8,659.2 C1495.2,667.2 1497.6,676.0 1500.0,685.6 C1502.4,695.2 1504.8,707.6 1507.2,716.8 C1509.6,726.0 1511.7,732.3 1514.4,740.8 C1517.1,749.3 1521.8,763.5 1523.3,768.0" fill="none" stroke-linecap="round" stroke-linejoin="round" stroke="#008000" stroke-width="4" stroke-dasharray="3.9 5.1 0 5.1" clip-path="url(#gr_d)"/>
<path d="M933.6,445.0 C933.7,437.5 934.0,412.5 934.2,400.0 C934.4,387.5 934.7,378.7 935.0,370.0 C935.3,361.3 935.7,354.1 936.0,347.7 C936.3,341.3 936.5,337.2 937.0,331.6 C937.5,326.0 938.2,319.3 938.9,314.0 C939.6,308.7 940.4,304.3 941.1,300.0 C941.8,295.7 942.5,292.1 943.3,288.2 C944.1,284.3 945.0,279.7 945.9,276.4 C946.8,273.1 947.5,271.0 948.5,268.2 C949.5,265.4 950.6,262.1 952.2,259.4 C953.8,256.7 956.3,254.2 958.1,252.0 C959.9,249.8 961.5,247.3 963.2,246.1 C964.9,244.9 966.5,245.3 968.4,245.0 C970.2,244.7 972.7,243.5 974.3,244.2 C975.9,244.9 976.8,247.0 978.0,249.0 C979.2,251.0 980.6,254.0 981.7,256.4 C982.8,258.8 983.8,260.5 984.7,263.1 C985.6,265.7 986.2,268.9 986.9,271.9 C987.6,274.8 988.4,277.6 989.1,280.8 C989.8,284.0 990.6,287.4 991.3,291.1 C992.0,294.8 992.9,299.3 993.5,303.0 C994.1,306.7 994.2,308.5 995.0,313.3 C995.8,318.1 997.5,326.4 998.4,331.6 C999.3,336.8 999.9,340.8 1000.6,344.6 C1001.3,348.4 1001.7,352.1 1002.4,354.5 C1003.1,356.9 1004.6,359.2 1004.6,359.2 L1006.6,355.9 L1011.8,356.6 L1014.8,350.0 L1015.5,346.3 L1019.6,341.9 L1020.7,335.2 L1022.2,323.4 L1024.4,321.9 L1028.1,315.3 L1029.5,307.9 L1031.0,304.2 L1038.4,303.5 C1038.4,303.5 1039.5,302.1 1040.5,302.3 C1041.5,302.5 1042.9,303.8 1044.3,304.6 C1045.7,305.4 1047.2,306.3 1048.7,307.2 C1050.2,308.1 1051.5,309.1 1053.2,310.1 C1054.9,311.1 1056.9,312.1 1059.1,313.1 C1061.3,314.1 1063.0,315.1 1066.5,316.0 C1070.0,316.9 1075.6,317.5 1080.0,318.2 C1084.4,318.9 1087.7,319.4 1093.0,320.0 C1098.3,320.6 1106.1,321.8 1111.9,321.8 C1117.7,321.9 1122.3,321.0 1127.7,320.3 C1133.1,319.6 1139.1,318.9 1144.3,317.7 C1149.5,316.5 1154.2,315.1 1159.1,313.4 C1164.0,311.7 1169.9,308.1 1173.9,307.3 C1177.9,306.5 1180.3,307.0 1183.1,308.8 C1185.9,310.6 1188.3,314.3 1190.5,318.0 C1192.7,321.7 1194.2,325.8 1196.1,331.0 C1197.9,336.2 1199.8,342.3 1201.6,349.4 C1203.4,356.5 1205.4,365.4 1207.2,373.5 C1209.0,381.6 1210.6,390.9 1212.2,397.7 C1213.8,404.4 1214.4,407.6 1216.6,414.0 C1218.8,420.4 1222.5,430.1 1225.5,436.2 C1228.5,442.3 1231.3,445.7 1234.3,450.9 C1237.2,456.1 1239.8,460.5 1243.2,467.2 C1246.7,473.9 1251.5,483.9 1255.0,490.8 C1258.5,497.7 1260.9,502.4 1263.9,508.6 C1266.9,514.8 1270.5,522.2 1272.8,527.8 C1275.1,533.4 1276.0,536.6 1277.5,542.0 C1279.0,547.4 1280.4,553.7 1281.5,560.0 C1282.6,566.3 1283.2,572.7 1284.3,580.0 C1285.4,587.3 1287.2,597.7 1288.2,604.0 C1289.2,610.3 1289.9,614.3 1290.5,618.0 C1291.1,621.7 1292.0,626.0 1292.0,626.0 L1296.0,633.0 L1303.0,641.6 L1307.7,640.0 L1308.5,622.8 L1310.0,607.1 L1311.6,594.5 L1315.5,585.1 L1317.1,572.6 L1319.4,560.0 L1320.4,545.6 L1325.0,536.4 L1328.7,523.5 C1328.7,523.5 1336.4,528.4 1341.6,532.7 C1346.8,537.0 1353.9,544.1 1360.1,549.3 C1366.3,554.5 1371.9,559.0 1378.6,564.1 C1385.2,569.2 1393.8,575.2 1400.0,580.2 C1406.2,585.2 1409.7,590.0 1416.0,594.4 C1422.3,598.8 1431.2,603.4 1437.6,606.4 C1444.0,609.4 1449.2,610.8 1454.4,612.4 C1459.6,614.0 1464.8,614.2 1468.8,616.0 C1472.8,617.8 1475.6,619.6 1478.4,623.2 C1481.2,626.8 1483.2,631.6 1485.6,637.6 C1488.0,643.6 1490.4,651.2 1492.8,659.2 C1495.2,667.2 1497.6,676.0 1500.0,685.6 C1502.4,695.2 1504.8,707.6 1507.2,716.8 C1509.6,726.0 1511.7,732.3 1514.4,740.8 C1517.1,749.3 1521.8,763.5 1523.3,768.0" fill="none" stroke-linecap="round" stroke-linejoin="round" stroke="#008000" stroke-width="4" clip-path="url(#gr_s)"/>
<path d="M933.6,445.0 C933.7,437.5 934.0,412.5 934.2,400.0 C934.4,387.5 934.7,378.7 935.0,370.0 C935.3,361.3 935.7,354.1 936.0,347.7 C936.3,341.3 936.5,337.2 937.0,331.6 C937.5,326.0 938.2,319.3 938.9,314.0 C939.6,308.7 940.4,304.3 941.1,300.0 C941.8,295.7 942.5,292.1 943.3,288.2 C944.1,284.3 945.0,279.7 945.9,276.4 C946.8,273.1 947.5,271.0 948.5,268.2 C949.5,265.4 950.6,262.1 952.2,259.4 C953.8,256.7 956.3,254.2 958.1,252.0 C959.9,249.8 961.5,247.3 963.2,246.1 C964.9,244.9 966.5,245.3 968.4,245.0 C970.2,244.7 972.7,243.5 974.3,244.2 C975.9,244.9 976.8,247.0 978.0,249.0 C979.2,251.0 980.6,254.0 981.7,256.4 C982.8,258.8 983.8,260.5 984.7,263.1 C985.6,265.7 986.2,268.9 986.9,271.9 C987.6,274.8 988.4,277.6 989.1,280.8 C989.8,284.0 990.6,287.4 991.3,291.1 C992.0,294.8 992.9,299.3 993.5,303.0 C994.1,306.7 994.2,308.5 995.0,313.3 C995.8,318.1 997.5,326.4 998.4,331.6 C999.3,336.8 999.9,340.8 1000.6,344.6 C1001.3,348.4 1001.7,352.1 1002.4,354.5 C1003.1,356.9 1003.5,358.0 1004.6,359.2 C1005.7,360.4 1007.6,361.1 1008.9,361.8 C1010.2,362.5 1010.4,362.8 1012.2,363.6 C1014.0,364.4 1019.6,366.8 1019.6,366.8 L1026.9,372.4 L1030.0,377.2 L1033.7,388.3 L1038.8,400.3 L1042.5,400.3 L1045.2,410.9 L1046.6,399.3 L1048.5,375.4 L1048.9,363.4 L1050.8,362.9 L1054.0,364.7 L1054.4,356.9 L1055.8,343.1 L1057.2,327.6 L1061.4,328.7 L1064.1,323.2 L1066.3,319.5 C1066.3,319.5 1071.6,320.2 1073.9,320.5 C1076.2,320.8 1076.8,321.1 1080.0,321.3 C1083.2,321.5 1088.1,321.7 1093.4,321.8 C1098.7,321.9 1106.2,322.4 1111.9,322.1 C1117.6,321.9 1122.3,321.0 1127.7,320.3 C1133.1,319.6 1139.1,318.9 1144.3,317.7 C1149.5,316.5 1154.2,315.1 1159.1,313.4 C1164.0,311.7 1169.9,308.1 1173.9,307.3 C1177.9,306.5 1180.3,307.0 1183.1,308.8 C1185.9,310.6 1188.3,314.3 1190.5,318.0 C1192.7,321.7 1194.2,325.8 1196.1,331.0 C1197.9,336.2 1199.8,342.3 1201.6,349.4 C1203.4,356.5 1205.4,365.4 1207.2,373.5 C1209.0,381.6 1210.6,390.9 1212.2,397.7 C1213.8,404.4 1214.4,407.6 1216.6,414.0 C1218.8,420.4 1222.5,430.1 1225.5,436.2 C1228.5,442.3 1231.3,445.7 1234.3,450.9 C1237.2,456.1 1239.8,460.5 1243.2,467.2 C1246.7,473.9 1251.5,483.9 1255.0,490.8 C1258.5,497.7 1260.9,502.4 1263.9,508.6 C1266.9,514.8 1270.5,522.2 1272.8,527.8 C1275.1,533.4 1276.0,536.6 1277.5,542.0 C1279.0,547.4 1280.4,553.7 1281.5,560.0 C1282.6,566.3 1283.2,572.7 1284.3,580.0 C1285.4,587.3 1286.9,595.6 1288.2,604.0 C1289.5,612.4 1291.4,626.2 1292.0,630.6 C1292.6,635.0 1291.3,628.7 1292.0,630.6 C1292.7,632.5 1295.9,642.0 1295.9,642.0 L1301.4,655.7 L1307.7,658.9 L1317.1,660.5 L1324.9,664.4 L1329.6,669.9 L1337.5,676.2 L1339.1,666.7 L1339.8,646.3 L1341.4,625.9 L1342.2,610.2 L1346.9,611.8 L1348.5,591.4 L1350.0,572.6 L1351.6,562.4 L1357.3,560.4 L1360.1,553.0 L1365.6,554.0 C1365.6,554.0 1369.3,557.5 1373.0,560.4 C1376.7,563.3 1383.3,568.3 1387.8,571.5 C1392.3,574.7 1395.3,575.7 1400.0,579.5 C1404.7,583.3 1409.7,589.9 1416.0,594.4 C1422.3,598.9 1431.2,603.4 1437.6,606.4 C1444.0,609.4 1449.2,610.8 1454.4,612.4 C1459.6,614.0 1464.8,614.2 1468.8,616.0 C1472.8,617.8 1475.6,619.6 1478.4,623.2 C1481.2,626.8 1483.2,631.6 1485.6,637.6 C1488.0,643.6 1490.4,651.2 1492.8,659.2 C1495.2,667.2 1497.6,676.0 1500.0,685.6 C1502.4,695.2 1504.8,707.6 1507.2,716.8 C1509.6,726.0 1511.7,732.3 1514.4,740.8 C1517.1,749.3 1521.8,763.5 1523.3,768.0" fill="none" stroke-linecap="round" stroke-linejoin="round" stroke="#f0f" stroke-width="4" stroke-dasharray="4.6 5.3" transform="translate(0,-0.9)"/>
<path d="M933.6,445.0 C933.7,437.5 934.0,412.5 934.2,400.0 C934.4,387.5 934.7,378.7 935.0,370.0 C935.3,361.3 935.7,354.1 936.0,347.7 C936.3,341.3 936.5,337.2 937.0,331.6 C937.5,326.0 938.2,319.3 938.9,314.0 C939.6,308.7 940.4,304.3 941.1,300.0 C941.8,295.7 942.5,292.1 943.3,288.2 C944.1,284.3 945.0,279.7 945.9,276.4 C946.8,273.1 947.5,271.0 948.5,268.2 C949.5,265.4 950.6,262.1 952.2,259.4 C953.8,256.7 956.3,254.2 958.1,252.0 C959.9,249.8 961.5,247.3 963.2,246.1 C964.9,244.9 966.5,245.3 968.4,245.0 C970.2,244.7 972.7,243.5 974.3,244.2 C975.9,244.9 976.8,247.0 978.0,249.0 C979.2,251.0 980.6,254.0 981.7,256.4 C982.8,258.8 983.8,260.5 984.7,263.1 C985.6,265.7 986.2,268.9 986.9,271.9 C987.6,274.8 988.4,277.6 989.1,280.8 C989.8,284.0 990.6,287.4 991.3,291.1 C992.0,294.8 992.9,299.3 993.5,303.0 C994.1,306.7 994.2,308.5 995.0,313.3 C995.8,318.1 997.5,326.4 998.4,331.6 C999.3,336.8 999.9,340.8 1000.6,344.6 C1001.3,348.4 1001.7,352.1 1002.4,354.5 C1003.1,356.9 1003.5,358.0 1004.6,359.2 C1005.7,360.4 1007.6,361.1 1008.9,361.8 C1010.2,362.5 1010.4,362.8 1012.2,363.6 C1014.0,364.4 1019.6,366.8 1019.6,366.8 L1026.9,377.9 L1034.3,396.4 L1039.9,416.7 L1045.4,435.2 L1052.8,451.8 L1059.3,461.0 L1065.7,458.2 L1070.3,451.8 L1071.3,437.0 L1072.2,409.3 L1074.0,392.7 L1077.7,385.3 L1079.6,363.1 L1082.4,346.5 L1086.0,333.6 C1086.0,333.6 1088.2,327.9 1090.7,326.2 C1093.2,324.5 1097.3,324.1 1100.8,323.4 C1104.3,322.7 1107.4,322.6 1111.9,322.1 C1116.4,321.6 1122.3,321.0 1127.7,320.3 C1133.1,319.6 1139.1,318.9 1144.3,317.7 C1149.5,316.5 1154.2,315.1 1159.1,313.4 C1164.0,311.7 1169.9,308.1 1173.9,307.3 C1177.9,306.5 1180.3,307.0 1183.1,308.8 C1185.9,310.6 1188.3,314.3 1190.5,318.0 C1192.7,321.7 1194.2,325.8 1196.1,331.0 C1197.9,336.2 1199.8,342.3 1201.6,349.4 C1203.4,356.5 1205.4,365.4 1207.2,373.5 C1209.0,381.6 1210.6,390.9 1212.2,397.7 C1213.8,404.4 1214.4,407.6 1216.6,414.0 C1218.8,420.4 1222.5,430.1 1225.5,436.2 C1228.5,442.3 1231.3,445.7 1234.3,450.9 C1237.2,456.1 1239.8,460.5 1243.2,467.2 C1246.7,473.9 1251.5,483.9 1255.0,490.8 C1258.5,497.7 1260.9,502.4 1263.9,508.6 C1266.9,514.8 1270.5,522.2 1272.8,527.8 C1275.1,533.4 1276.0,536.6 1277.5,542.0 C1279.0,547.4 1280.4,553.7 1281.5,560.0 C1282.6,566.3 1283.2,572.7 1284.3,580.0 C1285.4,587.3 1286.9,595.6 1288.2,604.0 C1289.5,612.4 1290.7,622.8 1292.0,630.6 C1293.3,638.4 1295.9,651.0 1295.9,651.0 L1303.0,663.6 L1315.5,671.4 L1324.9,680.9 L1332.8,696.6 L1342.2,707.5 L1354.8,713.0 L1359.5,707.5 L1364.2,706.0 L1365.0,685.6 L1366.5,662.0 L1368.1,638.5 L1372.0,630.6 L1374.4,614.9 L1376.7,591.4 L1378.3,582.0 L1386.9,576.5 L1395.6,582.0 C1395.6,582.0 1395.8,582.7 1399.2,584.8 C1402.6,586.9 1409.6,590.8 1416.0,594.4 C1422.4,598.0 1431.2,603.4 1437.6,606.4 C1444.0,609.4 1449.2,610.8 1454.4,612.4 C1459.6,614.0 1464.8,614.2 1468.8,616.0 C1472.8,617.8 1475.6,619.6 1478.4,623.2 C1481.2,626.8 1483.2,631.6 1485.6,637.6 C1488.0,643.6 1490.4,651.2 1492.8,659.2 C1495.2,667.2 1497.6,676.0 1500.0,685.6 C1502.4,695.2 1504.8,707.6 1507.2,716.8 C1509.6,726.0 1511.7,732.3 1514.4,740.8 C1517.1,749.3 1521.8,763.5 1523.3,768.0" fill="none" stroke-linecap="round" stroke-linejoin="round" stroke="#00f" stroke-width="4.2" stroke-dasharray="9.5 8.3" clip-path="url(#bl_d)"/>
<path d="M933.6,445.0 C933.7,437.5 934.0,412.5 934.2,400.0 C934.4,387.5 934.7,378.7 935.0,370.0 C935.3,361.3 935.7,354.1 936.0,347.7 C936.3,341.3 936.5,337.2 937.0,331.6 C937.5,326.0 938.2,319.3 938.9,314.0 C939.6,308.7 940.4,304.3 941.1,300.0 C941.8,295.7 942.5,292.1 943.3,288.2 C944.1,284.3 945.0,279.7 945.9,276.4 C946.8,273.1 947.5,271.0 948.5,268.2 C949.5,265.4 950.6,262.1 952.2,259.4 C953.8,256.7 956.3,254.2 958.1,252.0 C959.9,249.8 961.5,247.3 963.2,246.1 C964.9,244.9 966.5,245.3 968.4,245.0 C970.2,244.7 972.7,243.5 974.3,244.2 C975.9,244.9 976.8,247.0 978.0,249.0 C979.2,251.0 980.6,254.0 981.7,256.4 C982.8,258.8 983.8,260.5 984.7,263.1 C985.6,265.7 986.2,268.9 986.9,271.9 C987.6,274.8 988.4,277.6 989.1,280.8 C989.8,284.0 990.6,287.4 991.3,291.1 C992.0,294.8 992.9,299.3 993.5,303.0 C994.1,306.7 994.2,308.5 995.0,313.3 C995.8,318.1 997.5,326.4 998.4,331.6 C999.3,336.8 999.9,340.8 1000.6,344.6 C1001.3,348.4 1001.7,352.1 1002.4,354.5 C1003.1,356.9 1003.5,358.0 1004.6,359.2 C1005.7,360.4 1007.6,361.1 1008.9,361.8 C1010.2,362.5 1010.4,362.8 1012.2,363.6 C1014.0,364.4 1019.6,366.8 1019.6,366.8 L1026.9,377.9 L1034.3,396.4 L1039.9,416.7 L1045.4,435.2 L1052.8,451.8 L1059.3,461.0 L1065.7,458.2 L1070.3,451.8 L1071.3,437.0 L1072.2,409.3 L1074.0,392.7 L1077.7,385.3 L1079.6,363.1 L1082.4,346.5 L1086.0,333.6 C1086.0,333.6 1088.2,327.9 1090.7,326.2 C1093.2,324.5 1097.3,324.1 1100.8,323.4 C1104.3,322.7 1107.4,322.6 1111.9,322.1 C1116.4,321.6 1122.3,321.0 1127.7,320.3 C1133.1,319.6 1139.1,318.9 1144.3,317.7 C1149.5,316.5 1154.2,315.1 1159.1,313.4 C1164.0,311.7 1169.9,308.1 1173.9,307.3 C1177.9,306.5 1180.3,307.0 1183.1,308.8 C1185.9,310.6 1188.3,314.3 1190.5,318.0 C1192.7,321.7 1194.2,325.8 1196.1,331.0 C1197.9,336.2 1199.8,342.3 1201.6,349.4 C1203.4,356.5 1205.4,365.4 1207.2,373.5 C1209.0,381.6 1210.6,390.9 1212.2,397.7 C1213.8,404.4 1214.4,407.6 1216.6,414.0 C1218.8,420.4 1222.5,430.1 1225.5,436.2 C1228.5,442.3 1231.3,445.7 1234.3,450.9 C1237.2,456.1 1239.8,460.5 1243.2,467.2 C1246.7,473.9 1251.5,483.9 1255.0,490.8 C1258.5,497.7 1260.9,502.4 1263.9,508.6 C1266.9,514.8 1270.5,522.2 1272.8,527.8 C1275.1,533.4 1276.0,536.6 1277.5,542.0 C1279.0,547.4 1280.4,553.7 1281.5,560.0 C1282.6,566.3 1283.2,572.7 1284.3,580.0 C1285.4,587.3 1286.9,595.6 1288.2,604.0 C1289.5,612.4 1290.7,622.8 1292.0,630.6 C1293.3,638.4 1295.9,651.0 1295.9,651.0 L1303.0,663.6 L1315.5,671.4 L1324.9,680.9 L1332.8,696.6 L1342.2,707.5 L1354.8,713.0 L1359.5,707.5 L1364.2,706.0 L1365.0,685.6 L1366.5,662.0 L1368.1,638.5 L1372.0,630.6 L1374.4,614.9 L1376.7,591.4 L1378.3,582.0 L1386.9,576.5 L1395.6,582.0 C1395.6,582.0 1395.8,582.7 1399.2,584.8 C1402.6,586.9 1409.6,590.8 1416.0,594.4 C1422.4,598.0 1431.2,603.4 1437.6,606.4 C1444.0,609.4 1449.2,610.8 1454.4,612.4 C1459.6,614.0 1464.8,614.2 1468.8,616.0 C1472.8,617.8 1475.6,619.6 1478.4,623.2 C1481.2,626.8 1483.2,631.6 1485.6,637.6 C1488.0,643.6 1490.4,651.2 1492.8,659.2 C1495.2,667.2 1497.6,676.0 1500.0,685.6 C1502.4,695.2 1504.8,707.6 1507.2,716.8 C1509.6,726.0 1511.7,732.3 1514.4,740.8 C1517.1,749.3 1521.8,763.5 1523.3,768.0" fill="none" stroke-linecap="round" stroke-linejoin="round" stroke="#00f" stroke-width="4.2" clip-path="url(#bl_s)"/>
<line x1="1034.1" y1="296.6" x2="1035.6" y2="288.4" stroke="#000" stroke-width="1.9"/>
<polygon points="1039.2,266.3 1029.9,287.3 1041.2,289.4" fill="#000" stroke="#000" stroke-width="0.8" stroke-linejoin="round"/>
<line x1="1181.2" y1="300.2" x2="1180.7" y2="293.8" stroke="#000" stroke-width="1.9"/>
<polygon points="1177.3,272.2 1175.5,294.6 1185.9,293.0" fill="#000" stroke="#000" stroke-width="0.8" stroke-linejoin="round"/>
<line x1="1327.9" y1="514.2" x2="1332.9" y2="506.4" stroke="#000" stroke-width="1.9"/>
<polygon points="1342.9,487.0 1328.2,504.1 1337.6,508.7" fill="#000" stroke="#000" stroke-width="0.8" stroke-linejoin="round"/>
<line x1="1476.9" y1="608.8" x2="1472.6" y2="590.8" stroke="#000" stroke-width="1.9"/>
<polygon points="1468.0,569.4 1467.5,591.9 1477.7,589.6" fill="#000" stroke="#000" stroke-width="0.8" stroke-linejoin="round"/>
<text transform="translate(1031.40,251.00) scale(0.9880,1)" font-family="Liberation Serif" font-size="52.11">A</text>
<text transform="translate(1149.22,258.85) scale(1.0990,1)" font-family="Liberation Serif" font-size="50.02">B</text>
<text transform="translate(1326.73,473.29) scale(1.1130,1)" font-family="Liberation Serif" font-size="51.94">C</text>
<text transform="translate(1442.04,555.60) scale(1.0983,1)" font-family="Liberation Serif" font-size="49.33">D</text>
<text transform="translate(982.68,104.66) scale(0.9502,1)" font-family="Liberation Serif" font-size="53.27">(</text>
<text transform="translate(1004.30,104.03) scale(1.1648,1)" font-family="Liberation Serif" font-size="48.32">b</text>
<text transform="translate(1033.06,104.66) scale(1.0160,1)" font-family="Liberation Serif" font-size="53.27">)</text>
<line x1="1138.1" y1="74" x2="1196" y2="74" stroke="#e00" stroke-width="4.8" stroke-linecap="round" stroke-dasharray="0 11.53"/>
<line x1="1137.9" y1="138.9" x2="1196.6" y2="138.9" stroke="#7000e0" stroke-width="4" stroke-linecap="round" stroke-dasharray="0 3.9"/>
<line x1="1138" y1="203" x2="1196.5" y2="203" stroke="#008000" stroke-width="4" stroke-linecap="round" stroke-dasharray="3.9 5.1 0 5.1"/>
<line x1="999.5" y1="801.9" x2="1058" y2="801.9" stroke="#f0f" stroke-width="4.2" stroke-linecap="round" stroke-dasharray="2 6.19"/>
<line x1="999.5" y1="865.7" x2="1058" y2="865.7" stroke="#00f" stroke-width="4.4" stroke-linecap="round" stroke-dasharray="6.4 11.2"/>
<text transform="translate(1219.51,88.60) scale(1.2458,1)" font-family="Liberation Serif" font-size="41.69" font-style="italic">E</text>
<text transform="translate(1250.81,95.23) scale(1.2247,1)" font-family="Liberation Serif" font-size="27.65">c</text>
<line x1="1269.9" y1="97.9" x2="1284.7" y2="58.6" stroke="#000" stroke-width="2.1" stroke-linecap="round"/>
<text transform="translate(1290.65,88.92) scale(1.1315,1)" font-family="Liberation Serif" font-size="38.88" font-style="italic">c</text>
<text transform="translate(1310.74,76.70) scale(1.1323,1)" font-family="Liberation Serif" font-size="29.30">2</text>
<rect x="1341.0" y="73.4" width="29.1" height="2.0" fill="#000" rx="0.9"/>
<rect x="1341.0" y="82.0" width="29.1" height="2.0" fill="#000" rx="0.9"/>
<rect x="1391.3" y="77.7" width="27.7" height="2.0" fill="#000" rx="0.9"/>
<text transform="translate(1425.56,89.38) scale(1.0976,1)" font-family="Liberation Serif" font-size="42.57">3</text>
<text transform="translate(1462.56,89.60) scale(1.1203,1)" font-family="Liberation Serif" font-size="43.83">7</text>
<text transform="translate(1486.40,89.38) scale(1.0824,1)" font-family="Liberation Serif" font-size="42.89">5</text>
<circle cx="1456.45" cy="86.50" r="2.4" fill="#000"/>
<text transform="translate(1219.51,153.00) scale(1.2458,1)" font-family="Liberation Serif" font-size="41.69" font-style="italic">E</text>
<text transform="translate(1250.81,159.63) scale(1.2247,1)" font-family="Liberation Serif" font-size="27.65">c</text>
<line x1="1269.9" y1="162.3" x2="1284.7" y2="123.0" stroke="#000" stroke-width="2.1" stroke-linecap="round"/>
<text transform="translate(1290.65,153.32) scale(1.1315,1)" font-family="Liberation Serif" font-size="38.88" font-style="italic">c</text>
<text transform="translate(1310.74,141.10) scale(1.1323,1)" font-family="Liberation Serif" font-size="29.30">2</text>
<rect x="1341.0" y="137.8" width="29.1" height="2.0" fill="#000" rx="0.9"/>
<rect x="1341.0" y="146.4" width="29.1" height="2.0" fill="#000" rx="0.9"/>
<rect x="1391.3" y="142.1" width="27.7" height="2.0" fill="#000" rx="0.9"/>
<text transform="translate(1425.56,153.78) scale(1.0976,1)" font-family="Liberation Serif" font-size="42.57">3</text>
<text transform="translate(1462.85,153.78) scale(1.0651,1)" font-family="Liberation Serif" font-size="42.89">5</text>
<text transform="translate(1487.04,153.59) scale(1.0988,1)" font-family="Liberation Serif" font-size="42.09">0</text>
<circle cx="1456.45" cy="150.90" r="2.4" fill="#000"/>
<text transform="translate(1219.51,217.80) scale(1.2458,1)" font-family="Liberation Serif" font-size="41.69" font-style="italic">E</text>
<text transform="translate(1250.81,224.43) scale(1.2247,1)" font-family="Liberation Serif" font-size="27.65">c</text>
<line x1="1269.9" y1="227.1" x2="1284.7" y2="187.8" stroke="#000" stroke-width="2.1" stroke-linecap="round"/>
<text transform="translate(1290.65,218.12) scale(1.1315,1)" font-family="Liberation Serif" font-size="38.88" font-style="italic">c</text>
<text transform="translate(1310.74,205.90) scale(1.1323,1)" font-family="Liberation Serif" font-size="29.30">2</text>
<rect x="1341.0" y="202.6" width="29.1" height="2.0" fill="#000" rx="0.9"/>
<rect x="1341.0" y="211.2" width="29.1" height="2.0" fill="#000" rx="0.9"/>
<rect x="1391.3" y="206.9" width="27.7" height="2.0" fill="#000" rx="0.9"/>
<text transform="translate(1425.56,218.58) scale(1.0976,1)" font-family="Liberation Serif" font-size="42.57">3</text>
<text transform="translate(1463.82,218.00) scale(1.0871,1)" font-family="Liberation Serif" font-size="41.53">2</text>
<text transform="translate(1486.75,218.58) scale(1.0651,1)" font-family="Liberation Serif" font-size="42.89">5</text>
<circle cx="1456.45" cy="215.70" r="2.4" fill="#000"/>
<text transform="translate(1081.11,815.80) scale(1.2458,1)" font-family="Liberation Serif" font-size="41.69" font-style="italic">E</text>
<text transform="translate(1112.41,822.43) scale(1.2247,1)" font-family="Liberation Serif" font-size="27.65">c</text>
<line x1="1131.5" y1="825.1" x2="1146.3" y2="785.8" stroke="#000" stroke-width="2.1" stroke-linecap="round"/>
<text transform="translate(1152.25,816.12) scale(1.1315,1)" font-family="Liberation Serif" font-size="38.88" font-style="italic">c</text>
<text transform="translate(1172.34,803.90) scale(1.1323,1)" font-family="Liberation Serif" font-size="29.30">2</text>
<rect x="1202.6" y="800.6" width="29.1" height="2.0" fill="#000" rx="0.9"/>
<rect x="1202.6" y="809.2" width="29.1" height="2.0" fill="#000" rx="0.9"/>
<rect x="1252.9" y="804.9" width="27.7" height="2.0" fill="#000" rx="0.9"/>
<text transform="translate(1287.46,816.58) scale(1.0976,1)" font-family="Liberation Serif" font-size="42.57">3</text>
<text transform="translate(1325.07,816.39) scale(1.0820,1)" font-family="Liberation Serif" font-size="42.09">0</text>
<text transform="translate(1348.97,816.39) scale(1.0820,1)" font-family="Liberation Serif" font-size="42.09">0</text>
<circle cx="1318.05" cy="813.70" r="2.4" fill="#000"/>
<text transform="translate(1081.11,880.80) scale(1.2458,1)" font-family="Liberation Serif" font-size="41.69" font-style="italic">E</text>
<text transform="translate(1112.41,887.43) scale(1.2247,1)" font-family="Liberation Serif" font-size="27.65">c</text>
<line x1="1131.5" y1="890.1" x2="1146.3" y2="850.8" stroke="#000" stroke-width="2.1" stroke-linecap="round"/>
<text transform="translate(1152.25,881.12) scale(1.1315,1)" font-family="Liberation Serif" font-size="38.88" font-style="italic">c</text>
<text transform="translate(1172.34,868.90) scale(1.1323,1)" font-family="Liberation Serif" font-size="29.30">2</text>
<rect x="1202.6" y="865.6" width="29.1" height="2.0" fill="#000" rx="0.9"/>
<rect x="1202.6" y="874.2" width="29.1" height="2.0" fill="#000" rx="0.9"/>
<rect x="1252.9" y="869.9" width="27.7" height="2.0" fill="#000" rx="0.9"/>
<text transform="translate(1287.98,881.00) scale(1.1051,1)" font-family="Liberation Serif" font-size="41.53">2</text>
<text transform="translate(1324.56,881.80) scale(1.0865,1)" font-family="Liberation Serif" font-size="43.83">7</text>
<text transform="translate(1348.35,881.58) scale(1.0651,1)" font-family="Liberation Serif" font-size="42.89">5</text>
<circle cx="1318.05" cy="878.70" r="2.4" fill="#000"/>
<text transform="translate(516.92,1060.00) scale(1.2175,1)" font-family="Liberation Serif" font-size="50.25" font-style="italic">E</text>
<line x1="558.5" y1="1070.8" x2="576.8" y2="1024.8" stroke="#000" stroke-width="2.4" stroke-linecap="round"/>
<text transform="translate(582.19,1060.06) scale(1.1463,1)" font-family="Liberation Serif" font-size="45.53" font-style="italic">c</text>
<text transform="translate(607.32,1044.80) scale(1.1132,1)" font-family="Liberation Serif" font-size="34.28">2</text>
<text transform="translate(1175.02,1060.00) scale(1.2175,1)" font-family="Liberation Serif" font-size="50.25" font-style="italic">E</text>
<line x1="1216.6" y1="1070.8" x2="1234.9" y2="1024.8" stroke="#000" stroke-width="2.4" stroke-linecap="round"/>
<text transform="translate(1240.29,1060.06) scale(1.1463,1)" font-family="Liberation Serif" font-size="45.53" font-style="italic">c</text>
<text transform="translate(1265.42,1044.80) scale(1.1132,1)" font-family="Liberation Serif" font-size="34.28">2</text>
<text transform="translate(78.0,620.55) rotate(-90) scale(1.1976,1)" font-family="Liberation Serif" font-size="50.38">Probability</text>
</svg>
</body></html>
